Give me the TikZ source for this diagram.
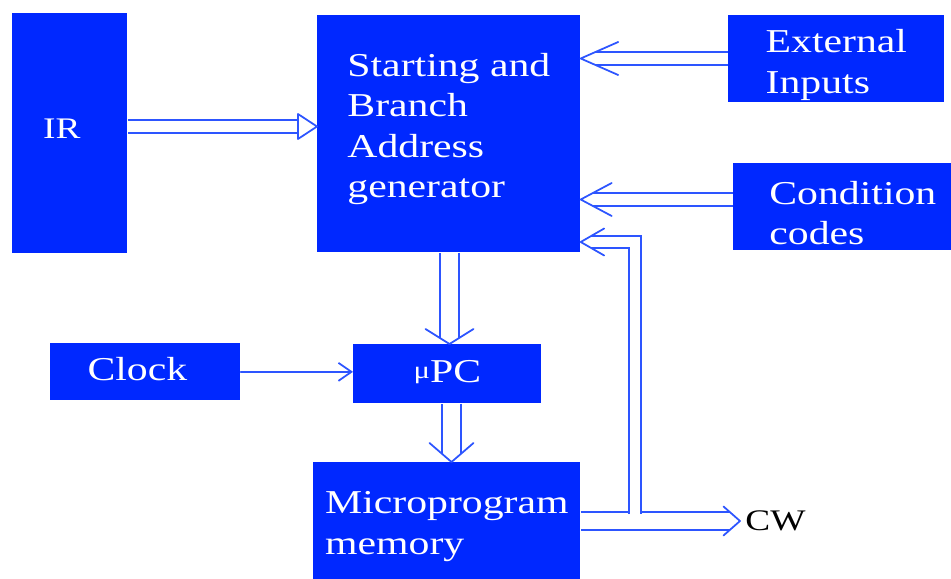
\documentclass[tikz,border=0pt]{standalone}
\usepackage{fontspec}
\setmainfont{Liberation Serif}[FakeStretch=1.25]
\usetikzlibrary{positioning,calc,arrows.meta}
\definecolor{boxblue}{RGB}{0,40,255}
\definecolor{wireblue}{RGB}{45,85,255}

\begin{document}
\begin{tikzpicture}[
    box/.style={fill=boxblue, inner sep=0pt, anchor=north west},
    txt/.style={text=white, inner sep=0pt, align=left,
      font=\fontsize{19}{23}\selectfont},
    wire/.style={draw=wireblue, line width=1pt, line cap=round, line join=round},
    pipe/.style={draw=wireblue, line width=1pt, double=white, double distance=#1},
    pipe/.default=0.21cm,
  ]
  \useasboundingbox (0,0) rectangle (19.02,-11.58);
  \clip (0,0) rectangle (19.02,-11.58);
  % Blocks
  \node[box, minimum width=2.30cm, minimum height=4.80cm,
    label={[txt, xshift=-0.16cm, yshift=0.10cm, font=\fontsize{17}{20}\selectfont]center:IR}]
    (ir) at (0.24,-0.26) {};
  \node[box, minimum width=5.26cm, minimum height=4.74cm,
    label={[txt, yshift=0.10cm]center:Starting and\\Branch\\Address\\generator}]
    (sbag) at (6.34,-0.30) {};
  \node[box, minimum width=4.32cm, minimum height=1.74cm,
    label={[txt, yshift=-0.12cm]center:External\\Inputs}]
    (ext) at (14.56,-0.30) {};
  \node[box, minimum width=4.78cm, minimum height=1.74cm,
    label={[txt, yshift=-0.12cm]center:Condition\\codes}]
    (cond) at (14.66,-3.26) {};
  \node[box, minimum width=3.80cm, minimum height=1.14cm,
    label={[txt, xshift=-0.16cm, yshift=0.06cm]center:Clock}]
    (clock) at (1.00,-6.86) {};
  \node[box, minimum width=3.76cm, minimum height=1.18cm,
    label={[txt, yshift=0.04cm]center:{\fontsize{14}{14}\selectfont\raisebox{2pt}{μ}}PC}]
    (upc) at (7.06,-6.88) {};
  \node[box, minimum width=5.34cm, minimum height=2.76cm,
    label={[txt, yshift=0.10cm]center:Microprogram\\memory}]
    (mem) at (6.26,-9.24) {};
  \node[font=\fontsize{17}{20}\selectfont, anchor=west, inner sep=0pt]
    (cw) at (14.90,-10.42) {CW};
  % IR into the generator
  \coordinate (t1) at (sbag.west |- 0,-2.53);
  \draw[pipe] (ir.east |- t1) -- ($(t1)+(-0.38,0)$);
  \draw[wire, fill=white] ($(t1)+(-0.38,0.25)$) -- (t1) -- ($(t1)+(-0.38,-0.25)$) -- cycle;
  % External inputs and condition codes
  \coordinate (t2) at (sbag.east |- 0,-1.17);
  \draw[pipe] (ext.west |- t2) -- ($(t2)+(0.29,0)$);
  \draw[wire] ($(t2)+(0.75,0.33)$) -- (t2) -- ($(t2)+(0.75,-0.33)$);
  \coordinate (t3) at (sbag.east |- 0,-3.99);
  \draw[pipe] (cond.west |- t3) -- ($(t3)+(0.24,0)$);
  \draw[wire] ($(t3)+(0.62,0.33)$) -- (t3) -- ($(t3)+(0.62,-0.33)$);
  % Generator to micro PC
  \coordinate (t4) at (8.99,0 |- upc.north);
  \draw[pipe=0.345cm] (t4 |- sbag.south) -- ($(t4)+(0,0.13)$);
  \draw[wire] ($(t4)+(-0.48,0.30)$) -- (t4) -- ($(t4)+(0.48,0.30)$);
  % Clock
  \draw[wire, -{Straight Barb[length=0.26cm, width=0.36cm]}]
    (clock.east) -- (clock.east -| upc.west);
  % Micro PC to memory
  \coordinate (t6) at (9.03,0 |- mem.north);
  \draw[pipe=0.345cm] (t6 |- upc.south) -- ($(t6)+(0,0.17)$);
  \draw[wire] ($(t6)+(-0.44,0.38)$) -- (t6) -- ($(t6)+(0.44,0.38)$);
  % Memory to control word, and back to the generator
  \coordinate (t7) at ($(cw.west)+(-0.10,0)$);
  \draw[pipe=0.325cm] (mem.east |- t7) -- ($(t7)+(-0.21,0)$);
  \draw[wire] ($(t7)+(-0.33,0.29)$) -- (t7) -- ($(t7)+(-0.33,-0.29)$);
  \coordinate (tap) at (12.70,-10.27);
  \coordinate (t8) at (sbag.east |- 0,-4.84);
  \draw[pipe] (tap) -- (tap |- t8) -- ($(t8)+(0.21,0)$);
  \draw[wire] ($(t8)+(0.47,0.27)$) -- (t8) -- ($(t8)+(0.47,-0.27)$);
\end{tikzpicture}
\end{document}
